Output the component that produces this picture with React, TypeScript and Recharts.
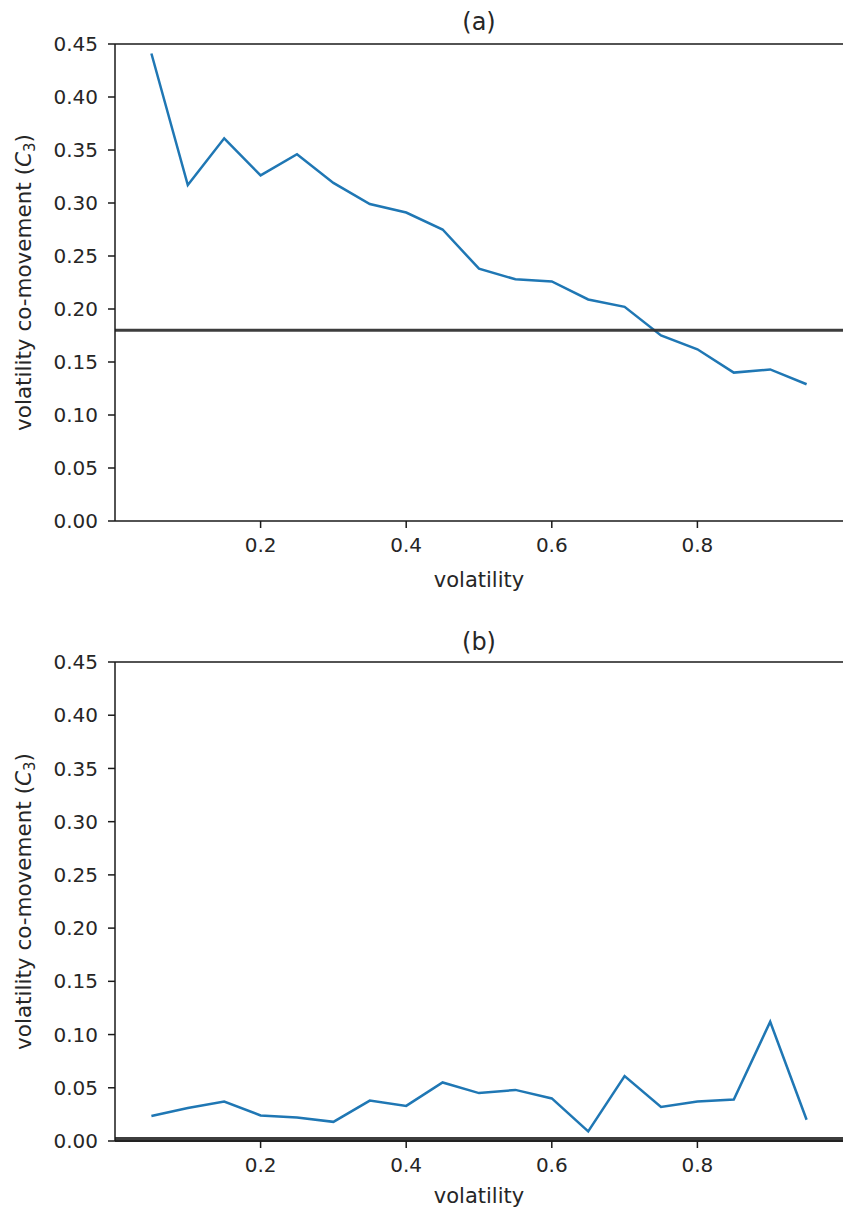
import React from 'react';
import { LineChart, Line, XAxis, YAxis, ReferenceLine, Label } from 'recharts';

const VOLATILITY = [0.05, 0.1, 0.15, 0.2, 0.25, 0.3, 0.35, 0.4, 0.45, 0.5, 0.55, 0.6, 0.65, 0.7, 0.75, 0.8, 0.85, 0.9, 0.95];
const COMOVE_A = [0.441, 0.317, 0.361, 0.326, 0.346, 0.319, 0.299, 0.291, 0.275, 0.238, 0.228, 0.226, 0.209, 0.202, 0.175, 0.162, 0.14, 0.143, 0.129];
const COMOVE_B = [0.0235, 0.031, 0.037, 0.024, 0.022, 0.018, 0.038, 0.033, 0.055, 0.045, 0.048, 0.04, 0.009, 0.061, 0.032, 0.037, 0.039, 0.112, 0.02];
const THRESHOLD_A = 0.18;
const THRESHOLD_B = 0.0015;
const X_TICKS = [0.2, 0.4, 0.6, 0.8];
const Y_TICKS = [0, 0.05, 0.1, 0.15, 0.2, 0.25, 0.3, 0.35, 0.4, 0.45];

const FONT = '"DejaVu Sans", sans-serif';
const INK = '#262626';
const SPINE = '#1a1a1a';
const BLUE = '#1f77b4';

const toRows = (vals: number[]) => VOLATILITY.map((x, i) => ({ x, c3: vals[i] }));

interface PanelProps {
  title: string;
  values: number[];
  threshold: number;
  thresholdWidth: number;
  height: number;
  top: number;
  bottom: number;
  titleGap: number;
  xLabelGap: number;
}

function Panel({ title, values, threshold, thresholdWidth, height, top, bottom, titleGap, xLabelGap }: PanelProps) {
  const tick = { fill: INK, fontSize: 20, fontFamily: FONT };
  return (
    <LineChart width={844} height={height} data={toRows(values)} margin={{ top, right: 1, left: 0, bottom }}>
      <XAxis
        type="number"
        dataKey="x"
        domain={[0, 1]}
        ticks={X_TICKS}
        tickFormatter={(v: number) => v.toFixed(1)}
        tick={tick}
        tickSize={7}
        tickMargin={10}
        height={30}
        stroke={SPINE}
        strokeWidth={1.5}
        tickLine={{ stroke: SPINE, strokeWidth: 1.5 }}
      >
        <Label
          content={(p: any) => {
            const vb = p.viewBox;
            return (
              <text x={vb.x + vb.width / 2} y={vb.y + xLabelGap} textAnchor="middle" fill={INK} fontSize={21} fontFamily={FONT}>
                volatility
              </text>
            );
          }}
        />
      </XAxis>
      <YAxis
        type="number"
        domain={[0, 0.45]}
        ticks={Y_TICKS}
        tickFormatter={(v: number) => v.toFixed(2)}
        tick={tick}
        tickSize={7}
        tickMargin={10}
        width={115}
        stroke={SPINE}
        strokeWidth={1.5}
        tickLine={{ stroke: SPINE, strokeWidth: 1.5 }}
        allowDataOverflow
      >
        <Label
          content={(p: any) => {
            const vb = p.viewBox;
            const cy = vb.y + vb.height / 2;
            return (
              <text x={31} y={cy} transform={`rotate(-90 31 ${cy})`} textAnchor="middle" fill={INK} fontSize={21.5} fontFamily={FONT}>
                volatility co-movement (<tspan fontStyle="italic">C</tspan>
                <tspan dy={4} fontSize={15}>3</tspan>
                <tspan dy={-4}>)</tspan>
              </text>
            );
          }}
        />
      </YAxis>
      <Line type="linear" dataKey="c3" stroke={BLUE} strokeWidth={2.5} dot={false} isAnimationActive={false} />
      <ReferenceLine y={threshold} stroke="#333" strokeOpacity={0.95} strokeWidth={thresholdWidth} />
      <ReferenceLine y={0.45} stroke={SPINE} strokeWidth={1.5}>
        <Label
          content={(p: any) => {
            const vb = p.viewBox;
            return (
              <text x={vb.x + vb.width / 2} y={vb.y - titleGap} textAnchor="middle" fill={INK} fontSize={24} fontFamily={FONT}>
                {title}
              </text>
            );
          }}
        />
      </ReferenceLine>
    </LineChart>
  );
}

export default function App() {
  return (
    <div style={{ position: 'absolute', left: 0, top: 0, width: 844, height: 1211, background: '#fff', fontFamily: FONT }}>
      <Panel title="(a)" values={COMOVE_A} threshold={THRESHOLD_A} thresholdWidth={3} height={605} top={44} bottom={54} titleGap={14} xLabelGap={66} />
      <Panel title="(b)" values={COMOVE_B} threshold={THRESHOLD_B} thresholdWidth={5} height={606} top={57} bottom={40} titleGap={12} xLabelGap={62} />
    </div>
  );
}
